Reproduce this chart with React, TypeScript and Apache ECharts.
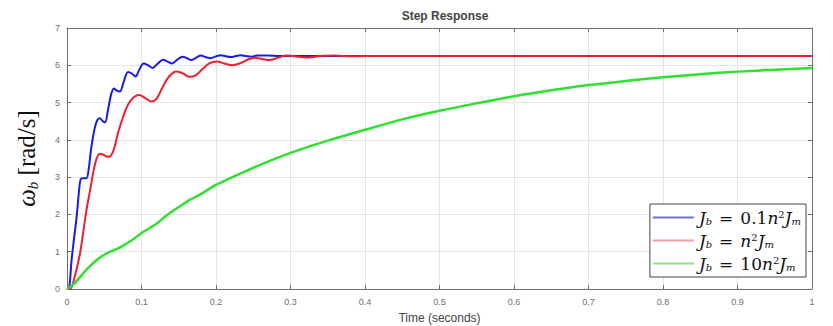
import React, { useEffect, useRef } from "react";
import * as echarts from "echarts";

const xTicks = ["0", "0.1", "0.2", "0.3", "0.4", "0.5", "0.6", "0.7", "0.8", "0.9", "1"];

const blueT = [0, 0.003, 0.006, 0.01, 0.013, 0.016, 0.0185, 0.022, 0.026, 0.029, 0.032, 0.036, 0.04, 0.044, 0.048, 0.051, 0.055, 0.059, 0.063, 0.067, 0.071, 0.076, 0.082, 0.087, 0.092, 0.097, 0.103, 0.109, 0.115, 0.122, 0.129, 0.135, 0.141, 0.148, 0.155, 0.161, 0.167, 0.173, 0.18, 0.186, 0.193, 0.2, 0.206, 0.213, 0.22, 0.227, 0.233, 0.24, 0.247, 0.255, 0.27, 0.285, 0.3, 0.35, 1];
const blueV = [0, 0.05, 0.75, 1.45, 1.95, 2.6, 2.95, 2.97, 2.97, 3.2, 3.7, 4.2, 4.5, 4.58, 4.5, 4.47, 4.8, 5.2, 5.38, 5.32, 5.3, 5.55, 5.82, 5.78, 5.7, 5.88, 6.05, 6.0, 5.93, 6.05, 6.15, 6.1, 6.05, 6.15, 6.23, 6.19, 6.14, 6.2, 6.26, 6.22, 6.19, 6.24, 6.27, 6.24, 6.22, 6.25, 6.27, 6.25, 6.23, 6.26, 6.26, 6.25, 6.25, 6.25, 6.25];

const redT = [0, 0.005, 0.01, 0.0175, 0.026, 0.031, 0.035, 0.039, 0.044, 0.049, 0.054, 0.058, 0.063, 0.068, 0.075, 0.082, 0.09, 0.097, 0.105, 0.113, 0.12, 0.128, 0.137, 0.147, 0.156, 0.164, 0.172, 0.182, 0.191, 0.201, 0.211, 0.222, 0.232, 0.242, 0.252, 0.262, 0.272, 0.283, 0.295, 0.31, 0.325, 0.34, 0.36, 0.38, 0.4, 0.5, 1];
const redV = [0, 0.02, 0.3, 0.96, 2.1, 2.65, 3.1, 3.45, 3.63, 3.6, 3.55, 3.56, 3.75, 4.15, 4.6, 4.95, 5.15, 5.2, 5.12, 5.03, 5.1, 5.4, 5.7, 5.83, 5.78, 5.69, 5.72, 5.9, 6.05, 6.1, 6.05, 6.0, 6.05, 6.15, 6.2, 6.17, 6.14, 6.2, 6.26, 6.23, 6.21, 6.25, 6.26, 6.24, 6.25, 6.25, 6.25];

const greenT = [0, 0.01, 0.02, 0.03, 0.04, 0.05, 0.058, 0.07, 0.08, 0.09, 0.1, 0.12, 0.134, 0.15, 0.165, 0.18, 0.2, 0.25, 0.3, 0.35, 0.4, 0.45, 0.5, 0.55, 0.6, 0.65, 0.7, 0.75, 0.8, 0.85, 0.9, 0.95, 1.0];
const greenV = [0, 0.15, 0.38, 0.6, 0.78, 0.92, 1.0, 1.1, 1.22, 1.35, 1.5, 1.75, 1.98, 2.2, 2.39, 2.55, 2.79, 3.25, 3.65, 3.98, 4.27, 4.55, 4.78, 4.98, 5.17, 5.33, 5.47, 5.58, 5.68, 5.76, 5.83, 5.88, 5.93];

const seriesNames = ["blue", "red", "green"];
const legendFormats: Record<string, string> = {
  blue: "{J|J}{s|b}{e|=}{t|0.1}{J|n}{p|2}{J|J}{s|m}",
  red: "{J|J}{s|b}{e|=}{J|n}{p|2}{J|J}{s|m}",
  green: "{J|J}{s|b}{e|=}{t|10}{J|n}{p|2}{J|J}{s|m}",
};

const zip = (t: number[], v: number[]) => t.map((x, i) => [x, v[i]]);

export default function App() {
  const ref = useRef<HTMLDivElement>(null);
  useEffect(() => {
    const chart = echarts.init(ref.current!, null, { renderer: "svg" });
    const serif = "DejaVu Serif";
    const serif2 = "Liberation Serif";
    const axisGray = "#6e6e6e";
    const labelGray = "#707070";
    const gridLine = { show: true, lineStyle: { color: "#e4e4e4", width: 1 } };
    chart.setOption({
      animation: false,
      backgroundColor: "#ffffff",
      title: {
        text: "Step Response",
        left: 440,
        top: 5,
        textAlign: "center",
        textStyle: { fontFamily: "Liberation Sans", fontSize: 12, fontWeight: "bold", color: "#444" },
      },
      grid: { left: 67, right: 21, top: 28, bottom: 37, show: false, outerBoundsMode: "none", containLabel: false },
      legend: {
        data: seriesNames.map((n, i) => ({
          name: n,
          icon: "rect",
          itemStyle: { color: ["#7070d0", "#f0a0a8", "#90e090"][i] },
        })),
        orient: "vertical",
        right: 27,
        bottom: 49,
        backgroundColor: "#ffffff",
        borderColor: "#444",
        borderWidth: 1,
        borderRadius: 0,
        padding: [4, 5, 4, 3],
        itemGap: 4,
        itemWidth: 41,
        itemHeight: 2,
        formatter: (name: string) => legendFormats[name],
        textStyle: {
          color: "#111",
          fontFamily: serif,
          fontSize: 17,
          lineHeight: 19,
          rich: {
            J: { fontFamily: serif, fontStyle: "italic", fontSize: 17, color: "#111" },
            s: { fontFamily: serif, fontStyle: "italic", fontSize: 10, color: "#111", padding: [7, 0, 0, 0] },
            p: { fontFamily: serif, fontSize: 10, color: "#111", padding: [0, 0, 7, 0] },
            e: { fontFamily: serif, fontSize: 17, color: "#111", padding: [0, 7, 0, 7] },
            t: { fontFamily: serif, fontSize: 17, color: "#111" },
          },
        },
      },
      xAxis: [
        {
          type: "value",
          min: 0,
          max: 1,
          interval: 0.1,
          name: "Time (seconds)",
          nameLocation: "middle",
          nameGap: 23,
          nameTextStyle: { fontFamily: "Liberation Sans", fontSize: 12, color: "#444" },
          axisLine: { show: true, lineStyle: { color: axisGray, width: 1 } },
          axisTick: { show: true, inside: true, length: 4, lineStyle: { color: axisGray } },
          axisLabel: {
            color: labelGray,
            fontFamily: "Liberation Sans",
            fontSize: 9,
            margin: 8,
            formatter: (v: number) => xTicks[Math.round(v * 10)],
          },
          splitLine: gridLine,
        },
        {
          type: "value",
          position: "top",
          min: 0,
          max: 1,
          interval: 0.1,
          axisLine: { show: true, onZero: false, lineStyle: { color: axisGray, width: 1 } },
          axisTick: { show: true, inside: true, length: 4, lineStyle: { color: axisGray } },
          axisLabel: { show: false },
          splitLine: { show: false },
        },
      ],
      yAxis: [
        {
          type: "value",
          min: 0,
          max: 7,
          interval: 1,
          name: "{w|ω}{b|b}{n| [rad/s]}",
          nameLocation: "middle",
          nameGap: 27,
          nameRotate: 90,
          nameTextStyle: {
            rich: {
              w: { fontFamily: serif2, fontStyle: "italic", fontSize: 25, color: "#111" },
              b: { fontFamily: serif2, fontStyle: "italic", fontSize: 15, color: "#111", padding: [12, 0, 0, 0] },
              n: { fontFamily: serif2, fontSize: 25, color: "#111" },
            },
          },
          axisLine: { show: true, lineStyle: { color: axisGray, width: 1 } },
          axisTick: { show: true, inside: true, length: 4, lineStyle: { color: axisGray } },
          axisLabel: { color: labelGray, fontFamily: "Liberation Sans", fontSize: 9, margin: 7 },
          splitLine: gridLine,
        },
        {
          type: "value",
          position: "right",
          min: 0,
          max: 7,
          interval: 1,
          axisLine: { show: true, onZero: false, lineStyle: { color: axisGray, width: 1 } },
          axisTick: { show: true, inside: true, length: 4, lineStyle: { color: axisGray } },
          axisLabel: { show: false },
          splitLine: { show: false },
        },
      ],
      series: [
        {
          name: "blue",
          type: "line",
          data: zip(blueT, blueV),
          symbol: "none",
          smooth: 0.35,
          lineStyle: { color: "#1a1aee", width: 2 },
          itemStyle: { color: "#1a1aee" },
          z: 3,
        },
        {
          name: "red",
          type: "line",
          data: zip(redT, redV),
          symbol: "none",
          smooth: 0.35,
          lineStyle: { color: "#ee2030", width: 2 },
          itemStyle: { color: "#ee2030" },
          z: 4,
        },
        {
          name: "green",
          type: "line",
          data: zip(greenT, greenV),
          symbol: "none",
          smooth: 0.3,
          lineStyle: { color: "#30e030", width: 2.5 },
          itemStyle: { color: "#30e030" },
          z: 5,
        },
      ],
    });
    return () => chart.dispose();
  }, []);
  return (
    <div
      ref={ref}
      style={{ position: "fixed", left: 0, top: 0, width: 833, height: 326, background: "#fff" }}
    />
  );
}
